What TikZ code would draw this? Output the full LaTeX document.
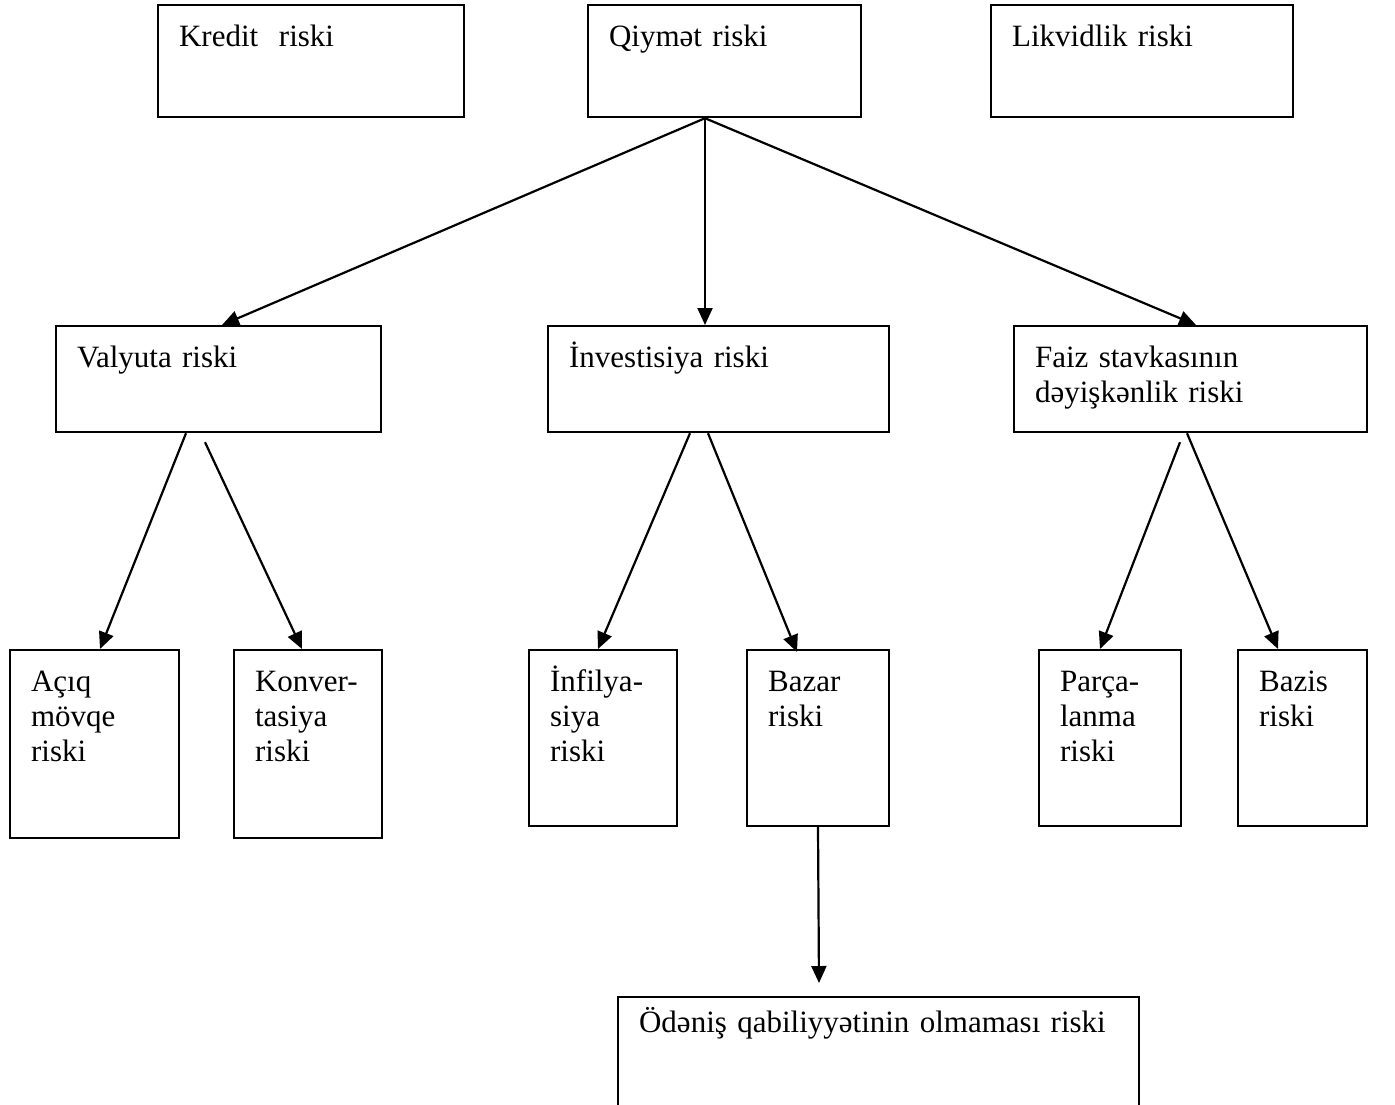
\documentclass[tikz,border=0pt]{standalone}
\usepackage{fontspec}
\setmainfont{Liberation Serif}
\usetikzlibrary{arrows.meta,calc}
\begin{document}
\begin{tikzpicture}[x=1pt,y=-1pt,
  box/.style={draw, line width=2.2pt, anchor=north west, inner xsep=21pt, inner ysep=0pt,
    align=left, font=\fontsize{31}{35}\selectfont, text height=41pt},
  conn/.style={line width=2.2pt, -{Triangle[length=17pt,width=15pt]}}]
\useasboundingbox (0,0) rectangle (1395,1104);

\node[box, text width=264pt, text depth=71pt] (kredit) at (157,4) {Kredit\ \ riski};
\node[box, text width=231pt, text depth=71pt] (qiymet) at (587,4) {Qiymət riski};
\node[box, text width=260pt, text depth=71pt] (likvid) at (990,4) {Likvidlik riski};

\node[box, text width=283pt, text depth=65pt] (valyuta) at (55,325) {Valyuta riski};
\node[box, text width=299pt, text depth=65pt] (invest) at (547,325) {İnvestisiya riski};
\node[box, text width=311pt, text depth=65pt] (faiz) at (1013,325) {Faiz stavkasının\\dəyişkənlik riski};

\node[box, text width=127pt, text depth=147pt] (aciq) at (9,649) {Açıq\\mövqe\\riski};
\node[box, text width=106pt, text depth=147pt] (konver) at (233,649) {Konver-\\tasiya\\riski};
\node[box, text width=106pt, text depth=135pt] (infil) at (528,649) {İnfilya-\\siya\\riski};
\node[box, text width=100pt, text depth=135pt] (bazar) at (746,649) {Bazar\\riski};
\node[box, text width=100pt, text depth=135pt] (parca) at (1038,649) {Parça-\\lanma\\riski};
\node[box, text width=87pt, text depth=135pt] (bazis) at (1237,649) {Bazis\\riski};

\node[box, text width=479pt, text height=35pt, text depth=85pt] (odenis) at (617,996) {Ödəniş qabiliyyətinin olmaması riski};

\draw[conn] ($(qiymet.south west)+(118,0)$) -- ($(valyuta.north west)+(167,0)$);
\draw[conn] ($(qiymet.south west)+(118,0)$) -- ($(invest.north west)+(158,0)$);
\draw[conn] ($(qiymet.south west)+(118,0)$) -- ($(faiz.north west)+(183,0)$);

\draw[conn] ($(valyuta.south west)+(131,0)$) -- ($(aciq.north west)+(91,0)$);
\draw[conn] ($(valyuta.south west)+(150,9)$) -- ($(konver.north west)+(69,0)$);

\draw[conn] ($(invest.south west)+(143,0)$) -- ($(infil.north west)+(70,0)$);
\draw[conn] ($(invest.south west)+(161,0)$) -- ($(bazar.north west)+(51,3)$);

\draw[conn] ($(faiz.south west)+(167,9)$) -- ($(parca.north west)+(62,0)$);
\draw[conn] ($(faiz.south west)+(174,0)$) -- ($(bazis.north west)+(41,0)$);

\draw[conn] ($(bazar.south west)+(72,0)$) -- ($(odenis.north west)+(202,-13)$);
\end{tikzpicture}
\end{document}
